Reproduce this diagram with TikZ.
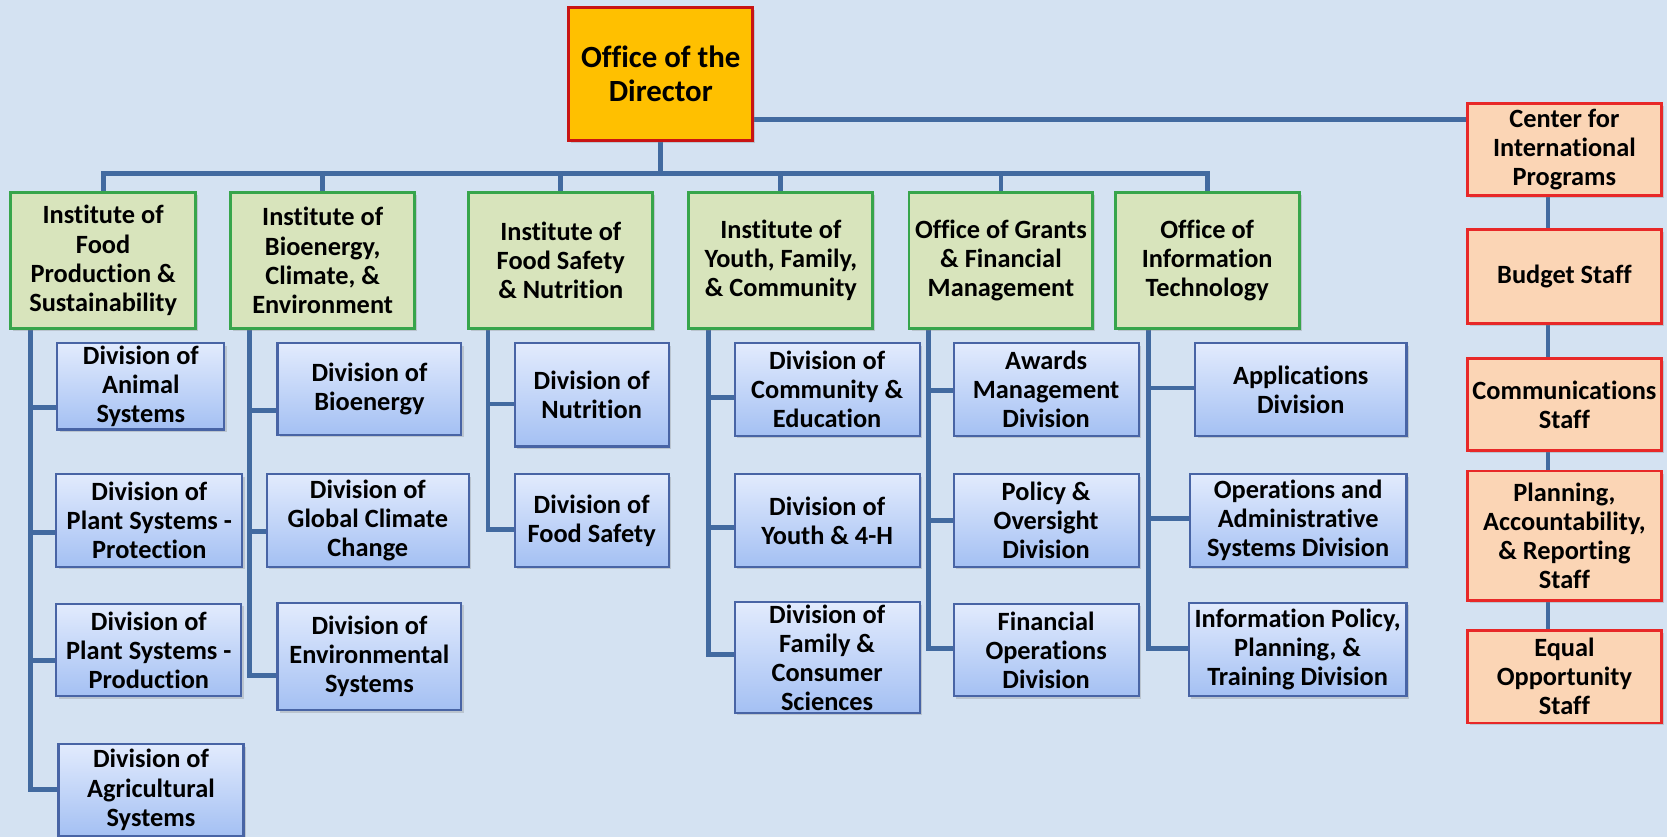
\documentclass[tikz,border=0pt]{standalone}
\usepackage{fontspec}
\setmainfont{Carlito}[Ligatures=NoCommon]
\usetikzlibrary{shadows}
\pgfdeclarelayer{back}
\pgfdeclarelayer{lines}
\pgfsetlayers{back,lines,main}
\definecolor{bgc}{RGB}{212,226,242}
\definecolor{connc}{RGB}{66,106,160}
\definecolor{dirfill}{RGB}{255,192,0}
\definecolor{dirline}{RGB}{200,20,20}
\definecolor{instfill}{RGB}{216,228,188}
\definecolor{instline}{RGB}{55,165,75}
\definecolor{divtop}{RGB}{226,235,253}
\definecolor{divbot}{RGB}{164,192,243}
\definecolor{divline}{RGB}{72,100,165}
\definecolor{stafffill}{RGB}{251,213,181}
\definecolor{staffline}{RGB}{232,40,40}
\tikzset{
  sz/.style 2 args={minimum width=#1*0.5pt, minimum height=#2*0.5pt},
  box/.style={rectangle, align=center, inner sep=1pt, text=black,
    font=\fontsize{12.4}{13.7}\selectfont\bfseries,
    drop shadow={shadow xshift=1.2pt, shadow yshift=-1.2pt, opacity=0.3}},
  dirbox/.style={box, fill=dirfill, draw=dirline, line width=1.5pt,
    font=\fontsize{14.5}{16.2}\selectfont\bfseries},
  instbox/.style={box, fill=instfill, draw=instline, line width=1.4pt},
  divbox/.style={box, top color=divtop, bottom color=divbot, draw=divline, line width=1pt},
  staffbox/.style={box, fill=stafffill, draw=staffline, line width=1.3pt},
  conn/.style={draw=connc, line width=2.3pt},
}
\begin{document}
\begin{tikzpicture}[x=0.5pt,y=-0.5pt]
\useasboundingbox (0,0) rectangle (1568,787);
\begin{pgfonlayer}{back}
\fill[bgc] (0,0) rectangle (1568,787);
\end{pgfonlayer}

% director
\node[dirbox, sz={173}{125}] (dir) at (621.5,69.5) {Office of the\\Director};

% institutes
\node[instbox, sz={174}{128}] (i1) at (97,245) {Institute of\\Food\\Production \&\\Sustainability};
\node[instbox, sz={173}{128}] (i2) at (303.5,245) {Institute of\\Bioenergy,\\Climate, \&\\Environment};
\node[instbox, sz={173}{128}] (i3) at (527.5,245) {Institute of\\Food Safety\\\& Nutrition};
\node[instbox, sz={173}{128}] (i4) at (734.5,245) {Institute of\\Youth, Family,\\\& Community};
\node[instbox, sz={173}{128}] (i5) at (941.5,245) {Office of Grants\\\& Financial\\Management};
\node[instbox, sz={173}{128}] (i6) at (1135.5,245) {Office of\\Information\\Technology};

% column 1
\node[divbox, sz={157}{81}] (d1a) at (132.5,363.5) {Division of\\Animal\\Systems};
\node[divbox, sz={175}{87}] (d1b) at (140.5,489.5) {Division of\\Plant Systems -\\Protection};
\node[divbox, sz={174}{87}] (d1c) at (140,611.5) {Division of\\Plant Systems -\\Production};
\node[divbox, sz={174}{86}] (d1d) at (142,743) {Division of\\Agricultural\\Systems};

% column 2
\node[divbox, sz={173}{86}] (d2a) at (347.5,366) {Division of\\Bioenergy};
\node[divbox, sz={190}{87}] (d2b) at (346,489.5) {Division of\\Global Climate\\Change};
\node[divbox, sz={173}{101}] (d2c) at (347.5,617.5) {Division of\\Environmental\\Systems};

% column 3
\node[divbox, sz={145}{97}] (d3a) at (556.5,371.5) {Division of\\Nutrition};
\node[divbox, sz={145}{87}] (d3b) at (556.5,489.5) {Division of\\Food Safety};

% column 4
\node[divbox, sz={174}{87}] (d4a) at (778,366.5) {Division of\\Community \&\\Education};
\node[divbox, sz={174}{87}] (d4b) at (778,489.5) {Division of\\Youth \& 4-H};
\node[divbox, sz={174}{103}] (d4c) at (778,618.5) {Division of\\Family \&\\Consumer\\Sciences};

% column 5
\node[divbox, sz={174}{87}] (d5a) at (984,366.5) {Awards\\Management\\Division};
\node[divbox, sz={174}{87}] (d5b) at (984,489.5) {Policy \&\\Oversight\\Division};
\node[divbox, sz={174}{87}] (d5c) at (984,611.5) {Financial\\Operations\\Division};

% column 6
\node[divbox, sz={199}{87}] (d6a) at (1223.5,366.5) {Applications\\Division};
\node[divbox, sz={204}{87}] (d6b) at (1221,489.5) {Operations and\\Administrative\\Systems Division};
\node[divbox, sz={205}{88}] (d6c) at (1220.5,611) {Information Policy,\\Planning, \&\\Training Division};

% staff column
\node[staffbox, sz={183}{87}] (cip) at (1471.5,140.5) {Center for\\International\\Programs};
\node[staffbox, sz={183}{88}] (bud) at (1471.5,260) {Budget Staff};
\node[staffbox, sz={183}{87}] (com) at (1471.5,380.5) {Communications\\Staff};
\node[staffbox, sz={183}{122}] (pln) at (1471.5,504) {Planning,\\Accountability,\\\& Reporting\\Staff};
\node[staffbox, sz={183}{87}] (eo) at (1471.5,636.5) {Equal\\Opportunity\\Staff};

\begin{pgfonlayer}{lines}
\coordinate (bus) at (0,163);
\draw[conn] (i1.north) -- (i1.north |- bus) -- (i6.north |- bus) -- (i6.north);
\draw[conn] (dir.south) -- (dir.south |- bus);
\foreach \n in {i2,i3,i4,i5} \draw[conn] (\n.north |- bus) -- (\n.north);
\draw[conn] (dir.east |- 0,112) -- (cip.west |- 0,112);
\coordinate (rx) at (1456,0);
\draw[conn] (rx |- cip.south) -- (rx |- eo.north);

\coordinate (s1) at (29,0);
\draw[conn] (s1 |- i1.south) |- (d1d.west |- 0,743);
\draw[conn] (s1 |- 0,383) -- (d1a.west |- 0,383);
\draw[conn] (s1 |- 0,501) -- (d1b.west |- 0,501);
\draw[conn] (s1 |- 0,621) -- (d1c.west |- 0,621);

\coordinate (s2) at (235,0);
\draw[conn] (s2 |- i2.south) |- (d2c.west |- 0,635);
\draw[conn] (s2 |- 0,386) -- (d2a.west |- 0,386);
\draw[conn] (s2 |- 0,500) -- (d2b.west |- 0,500);

\coordinate (s3) at (459,0);
\draw[conn] (s3 |- i3.south) |- (d3b.west |- 0,498);
\draw[conn] (s3 |- 0,380) -- (d3a.west |- 0,380);

\coordinate (s4) at (666,0);
\draw[conn] (s4 |- i4.south) |- (d4c.west |- 0,616);
\draw[conn] (s4 |- 0,374) -- (d4a.west |- 0,374);
\draw[conn] (s4 |- 0,496) -- (d4b.west |- 0,496);

\coordinate (s5) at (873,0);
\draw[conn] (s5 |- i5.south) |- (d5c.west |- 0,610);
\draw[conn] (s5 |- 0,367) -- (d5a.west |- 0,367);
\draw[conn] (s5 |- 0,490) -- (d5b.west |- 0,490);

\coordinate (s6) at (1080,0);
\draw[conn] (s6 |- i6.south) |- (d6c.west |- 0,610);
\draw[conn] (s6 |- 0,365) -- (d6a.west |- 0,365);
\draw[conn] (s6 |- 0,488) -- (d6b.west |- 0,488);
\end{pgfonlayer}
\end{tikzpicture}
\end{document}
